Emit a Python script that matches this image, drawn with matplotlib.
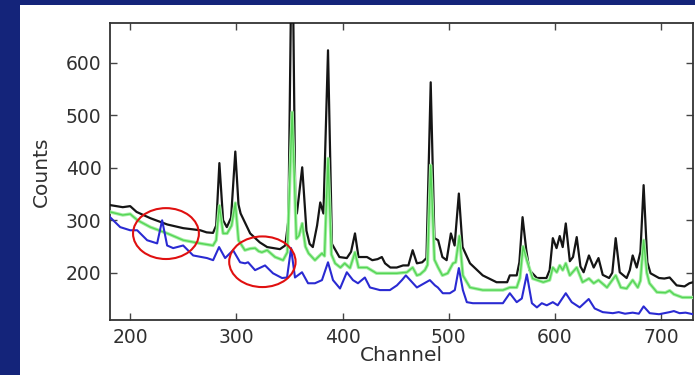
import matplotlib
matplotlib.use("Agg")
import matplotlib.pyplot as plt
from matplotlib.patches import Ellipse, Rectangle

# Spectrum 1 (black)
black_ch = [181, 193, 200, 206, 219, 235, 250, 266, 272, 278, 281, 284, 287.5, 291,
            295, 299, 302, 304, 313, 322, 329, 341, 346, 349, 352.5, 355.5, 357, 362,
            366, 369, 372, 376, 379, 382, 386.3, 390, 397, 404, 408, 411.7, 415, 423,
            428, 433, 437, 440, 445, 451, 457, 462, 466, 470, 475, 479, 483, 486.5,
            490, 494, 498, 502, 505.5, 509.5, 513, 520, 532, 545, 555, 557.5, 564,
            566.5, 569.5, 573, 576, 583, 592, 595, 598, 601.5, 604.5, 607.3, 610.2,
            614, 617, 620.5, 624, 627, 632, 636.5, 641, 645, 651, 654, 657.2, 661,
            667.5, 670.5, 673.2, 677, 680.5, 683.5, 687, 690, 698, 703, 708, 714.6,
            722, 726.6, 730]
black_counts = [329, 325, 327, 316, 304, 292, 285, 281, 277, 276, 290, 409, 300, 287,
                305, 431, 330, 313, 275, 258, 249, 245, 252, 300, 900, 330, 313, 401,
                280, 255, 249, 290, 334, 313, 624, 255, 230, 228, 240, 275, 230, 230,
                224, 226, 230, 218, 210, 210, 214, 214, 243, 218, 220, 228, 563, 266,
                262, 230, 224, 275, 252, 351, 249, 218, 195, 182, 182, 195, 195,
                220, 306, 243, 205, 190, 190, 205, 266, 247, 270, 249, 294,
                222, 230, 268, 212, 201, 233, 210, 228, 196, 190, 200, 266, 201,
                190, 205, 233, 210, 240, 367, 220, 199, 190, 189, 191, 176,
                174, 180, 182]

# Spectrum 2 (green)
green_ch = [181, 193, 200, 207, 219, 235, 250, 266, 278, 281, 284, 287.5, 291.3,
            295.5, 299, 302, 308, 313, 317.6, 321, 324, 329, 336.4, 344, 348,
            352.5, 356.5, 359, 362, 365, 368, 374, 378, 380.6, 383, 386.3, 389.5,
            393, 398, 402, 407, 411.7, 415, 423, 432, 442, 451, 460.6, 466, 470,
            473, 477.5, 480, 483, 486.5, 490, 494, 499, 504, 506.5, 510, 513.3,
            520, 532, 551, 557.5, 564, 567, 570, 573.5, 579, 589, 595, 598, 601.7,
            604.5, 607.3, 610.2, 614, 620.5, 626, 632, 636.5, 641, 649, 657.2, 662,
            667.5, 673.2, 678, 680.5, 683.5, 686.5, 689, 696, 704, 708, 712, 720, 730]
green_counts = [316, 310, 312, 300, 287, 275, 262, 256, 252, 262, 328, 275, 275,
                290, 333, 262, 243, 246, 247, 241, 239, 243, 230, 224, 239,
                506, 265, 271, 294, 250, 237, 224, 232, 237, 232, 418, 235,
                218, 210, 218, 209, 239, 210, 210, 199, 199, 199, 201, 210, 195,
                197, 205, 215, 405, 225, 210, 195, 199, 218, 220, 270, 195,
                172, 167, 167, 172, 172, 190, 250, 224, 189, 182, 186, 210, 201,
                214, 205, 218, 195, 210, 182, 189, 180, 186, 172, 195, 172,
                170, 186, 172, 185, 262, 200, 180, 163, 162, 166, 159, 153, 153]

# Spectrum 3 (blue)
blue_ch = [181, 190.6, 200, 206.6, 216, 225.4, 230.1, 234.8, 240.5, 249.9, 259.3,
           272.4, 278.1, 283.7, 289.4, 296.9, 303.5, 308.2, 311, 317.6, 327, 334.5,
           343, 347.7, 351.5, 355.2, 361.8, 367.5, 374, 380.6, 386.3, 391, 397.6,
           404, 409.8, 414.5, 421, 425.8, 435.2, 444.6, 451.2, 455.9, 459.6, 470,
           482.2, 487, 489.7, 494.4, 501, 505.7, 509.5, 513.3, 517, 522.7, 551,
           557.5, 564, 568.8, 573.5, 578.3, 583, 587.6, 592.3, 598, 602.6, 610.2,
           615.8, 623.3, 631.8, 637.4, 645, 654.5, 660, 666, 673.2, 679, 683.5,
           689.2, 698, 708, 712, 717.4, 723, 730]
blue_counts = [306, 287, 281, 281, 262, 256, 300, 252, 247, 252, 233,
               228, 224, 249, 228, 243, 220, 218, 220, 205, 214, 199,
               190, 191, 247, 191, 201, 180, 180, 186, 220, 186, 170,
               201, 186, 180, 191, 172, 167, 167, 176, 186, 195, 172,
               186, 176, 172, 161, 161, 167, 209, 167, 144, 142, 142,
               161, 144, 151, 197, 142, 134, 142, 138, 144, 138, 161,
               144, 134, 150, 132, 125, 123, 125, 122, 124, 122, 136,
               123, 121, 125, 127, 123, 124, 121]

x_ticks = [200, 300, 400, 500, 600, 700]
y_ticks = [200, 300, 400, 500, 600]

# Highlighted regions: (centre channel, centre counts, width, height)
ellipse_specs = [(233.7, 274.7, 62, 97), (324.5, 221, 62.5, 96.5)]

NAVY = "#14247a"
fig = plt.figure(figsize=(6.95, 3.75), dpi=100, facecolor=NAVY)
fig.add_artist(Rectangle((20 / 695, 0), 1 - 20 / 695, 1 - 5 / 375,
                         transform=fig.transFigure, facecolor="white",
                         edgecolor="none", zorder=-1))

ax = fig.add_axes([110 / 695, 1 - 320 / 375, (693 - 110) / 695, (320 - 23) / 375])
ax.set_facecolor("white")

ax.plot(black_ch, black_counts, color="#151515", lw=1.6, zorder=3)
ax.plot(green_ch, green_counts, color="#a2eea2", lw=2.4, zorder=4,
        solid_joinstyle="round")
ax.plot(green_ch, green_counts, color="#22c422", lw=1.0, alpha=0.6, zorder=4)
ax.plot(blue_ch, blue_counts, color="#2a2ad2", lw=1.5, zorder=5)

for cx, cy, w, h in ellipse_specs:
    ax.add_patch(Ellipse((cx, cy), w, h, fill=False, edgecolor="#e01010",
                         lw=1.5, zorder=6))

ax.set_xlim(181, 730)
ax.set_ylim(110, 676)
ax.set_xticks(x_ticks)
ax.set_yticks(y_ticks)
ax.tick_params(direction="in", top=True, right=True, length=5, width=1,
               labelsize=13.5, labelcolor="#303030", color="#444444", pad=6)
for sp in ax.spines.values():
    sp.set_linewidth(1.3)
    sp.set_color("#333333")

ax.set_xlabel("Channel", fontsize=14.5, color="#303030", labelpad=-1)
ax.set_ylabel("Counts", fontsize=14.5, color="#303030", labelpad=11)

fig.savefig("out.png", dpi=100, facecolor=NAVY)
